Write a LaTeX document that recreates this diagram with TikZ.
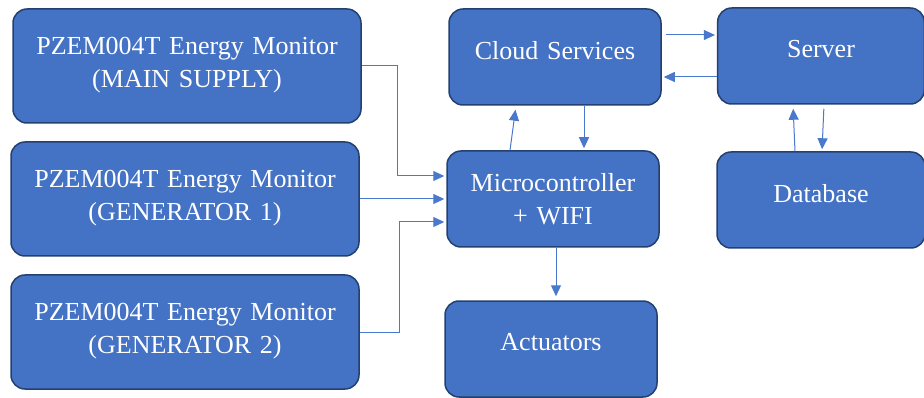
\documentclass[tikz,border=0pt]{standalone}
\usepackage{fontspec}
\setmainfont{Liberation Serif}
\usetikzlibrary{arrows.meta}

\definecolor{boxblue}{HTML}{4472C4}
\definecolor{boxline}{HTML}{23406F}
\definecolor{linkblue}{HTML}{4A78CC}

\tikzstyle{s} = [rectangle, rounded corners=14pt, minimum width=212pt, text width=200pt, minimum height=96pt, text depth=14pt, text centered, draw=boxline, line width=1.5pt, fill=boxblue, text=white, font=\fontsize{26}{33}\selectfont]
\tikzstyle{wide} = [minimum width=348pt, text width=330pt, minimum height=114pt, text depth=40pt]
\tikzstyle{link} = [draw=linkblue, line width=1pt, -{Triangle[length=11pt,width=10pt]}, shorten >=2pt]

\begin{document}
\begin{tikzpicture}[-,auto,node distance=133pt,semithick]
\useasboundingbox (0,0) rectangle (924pt,-398pt);

\node[s, wide] (mainSupply) at (187pt,-66pt) {PZEM004T Energy Monitor\\(MAIN SUPPLY)};
\node[s, wide] (generatorOne) [below of=mainSupply, xshift=-2pt] {PZEM004T Energy Monitor\\(GENERATOR 1)};
\node[s, wide] (generatorTwo) [below of=generatorOne] {PZEM004T Energy Monitor\\(GENERATOR 2)};

\node[s, text depth=34pt] (micro) [right of=generatorOne, xshift=235pt] {Microcontroller\\+ WIFI};
\node[s] (cloud) [above of=micro, yshift=9pt, xshift=2pt] {Cloud Services};
\node[s] (actuators) [below of=micro, yshift=-17pt, xshift=-2pt] {Actuators};

\node[s, minimum width=206pt] (server) [right of=cloud, xshift=133pt, yshift=1pt] {Server};
\node[s, minimum width=208pt] (database) [right of=micro, xshift=135pt, yshift=-1pt] {Database};

% monitors to microcontroller
\draw[link] (mainSupply.east) -- ++(36pt,0) |- ([yshift=23pt]micro.west);
\draw[link] (generatorOne.east) -- (micro.west |- generatorOne.east);
\draw[link] (generatorTwo.east) -- ++(40pt,0) |- ([yshift=-23pt]micro.west);

% microcontroller and cloud
\draw[link, shorten >=4pt] ([xshift=-43pt]micro.north) -- ([xshift=-39pt]cloud.south);
\draw[link] ([xshift=29pt]cloud.south) -- ([xshift=31pt]micro.north);
\draw[link, shorten >=4pt] ([xshift=3pt]micro.south) -- ([xshift=5pt]actuators.north);

% cloud and server
\draw[link, shorten <=4pt] ([yshift=22pt]cloud.east) -- ([yshift=22pt]cloud.east -| server.west);
\draw[link] ([yshift=-20pt]cloud.east -| server.west) -- ([yshift=-20pt]cloud.east);

% server and database
\draw[link, shorten >=4pt] ([xshift=-26pt]database.north) -- ([xshift=-28pt]server.south);
\draw[link, shorten <=4pt] ([xshift=3pt]server.south) -- ([xshift=1pt]database.north);

\end{tikzpicture}
\end{document}
